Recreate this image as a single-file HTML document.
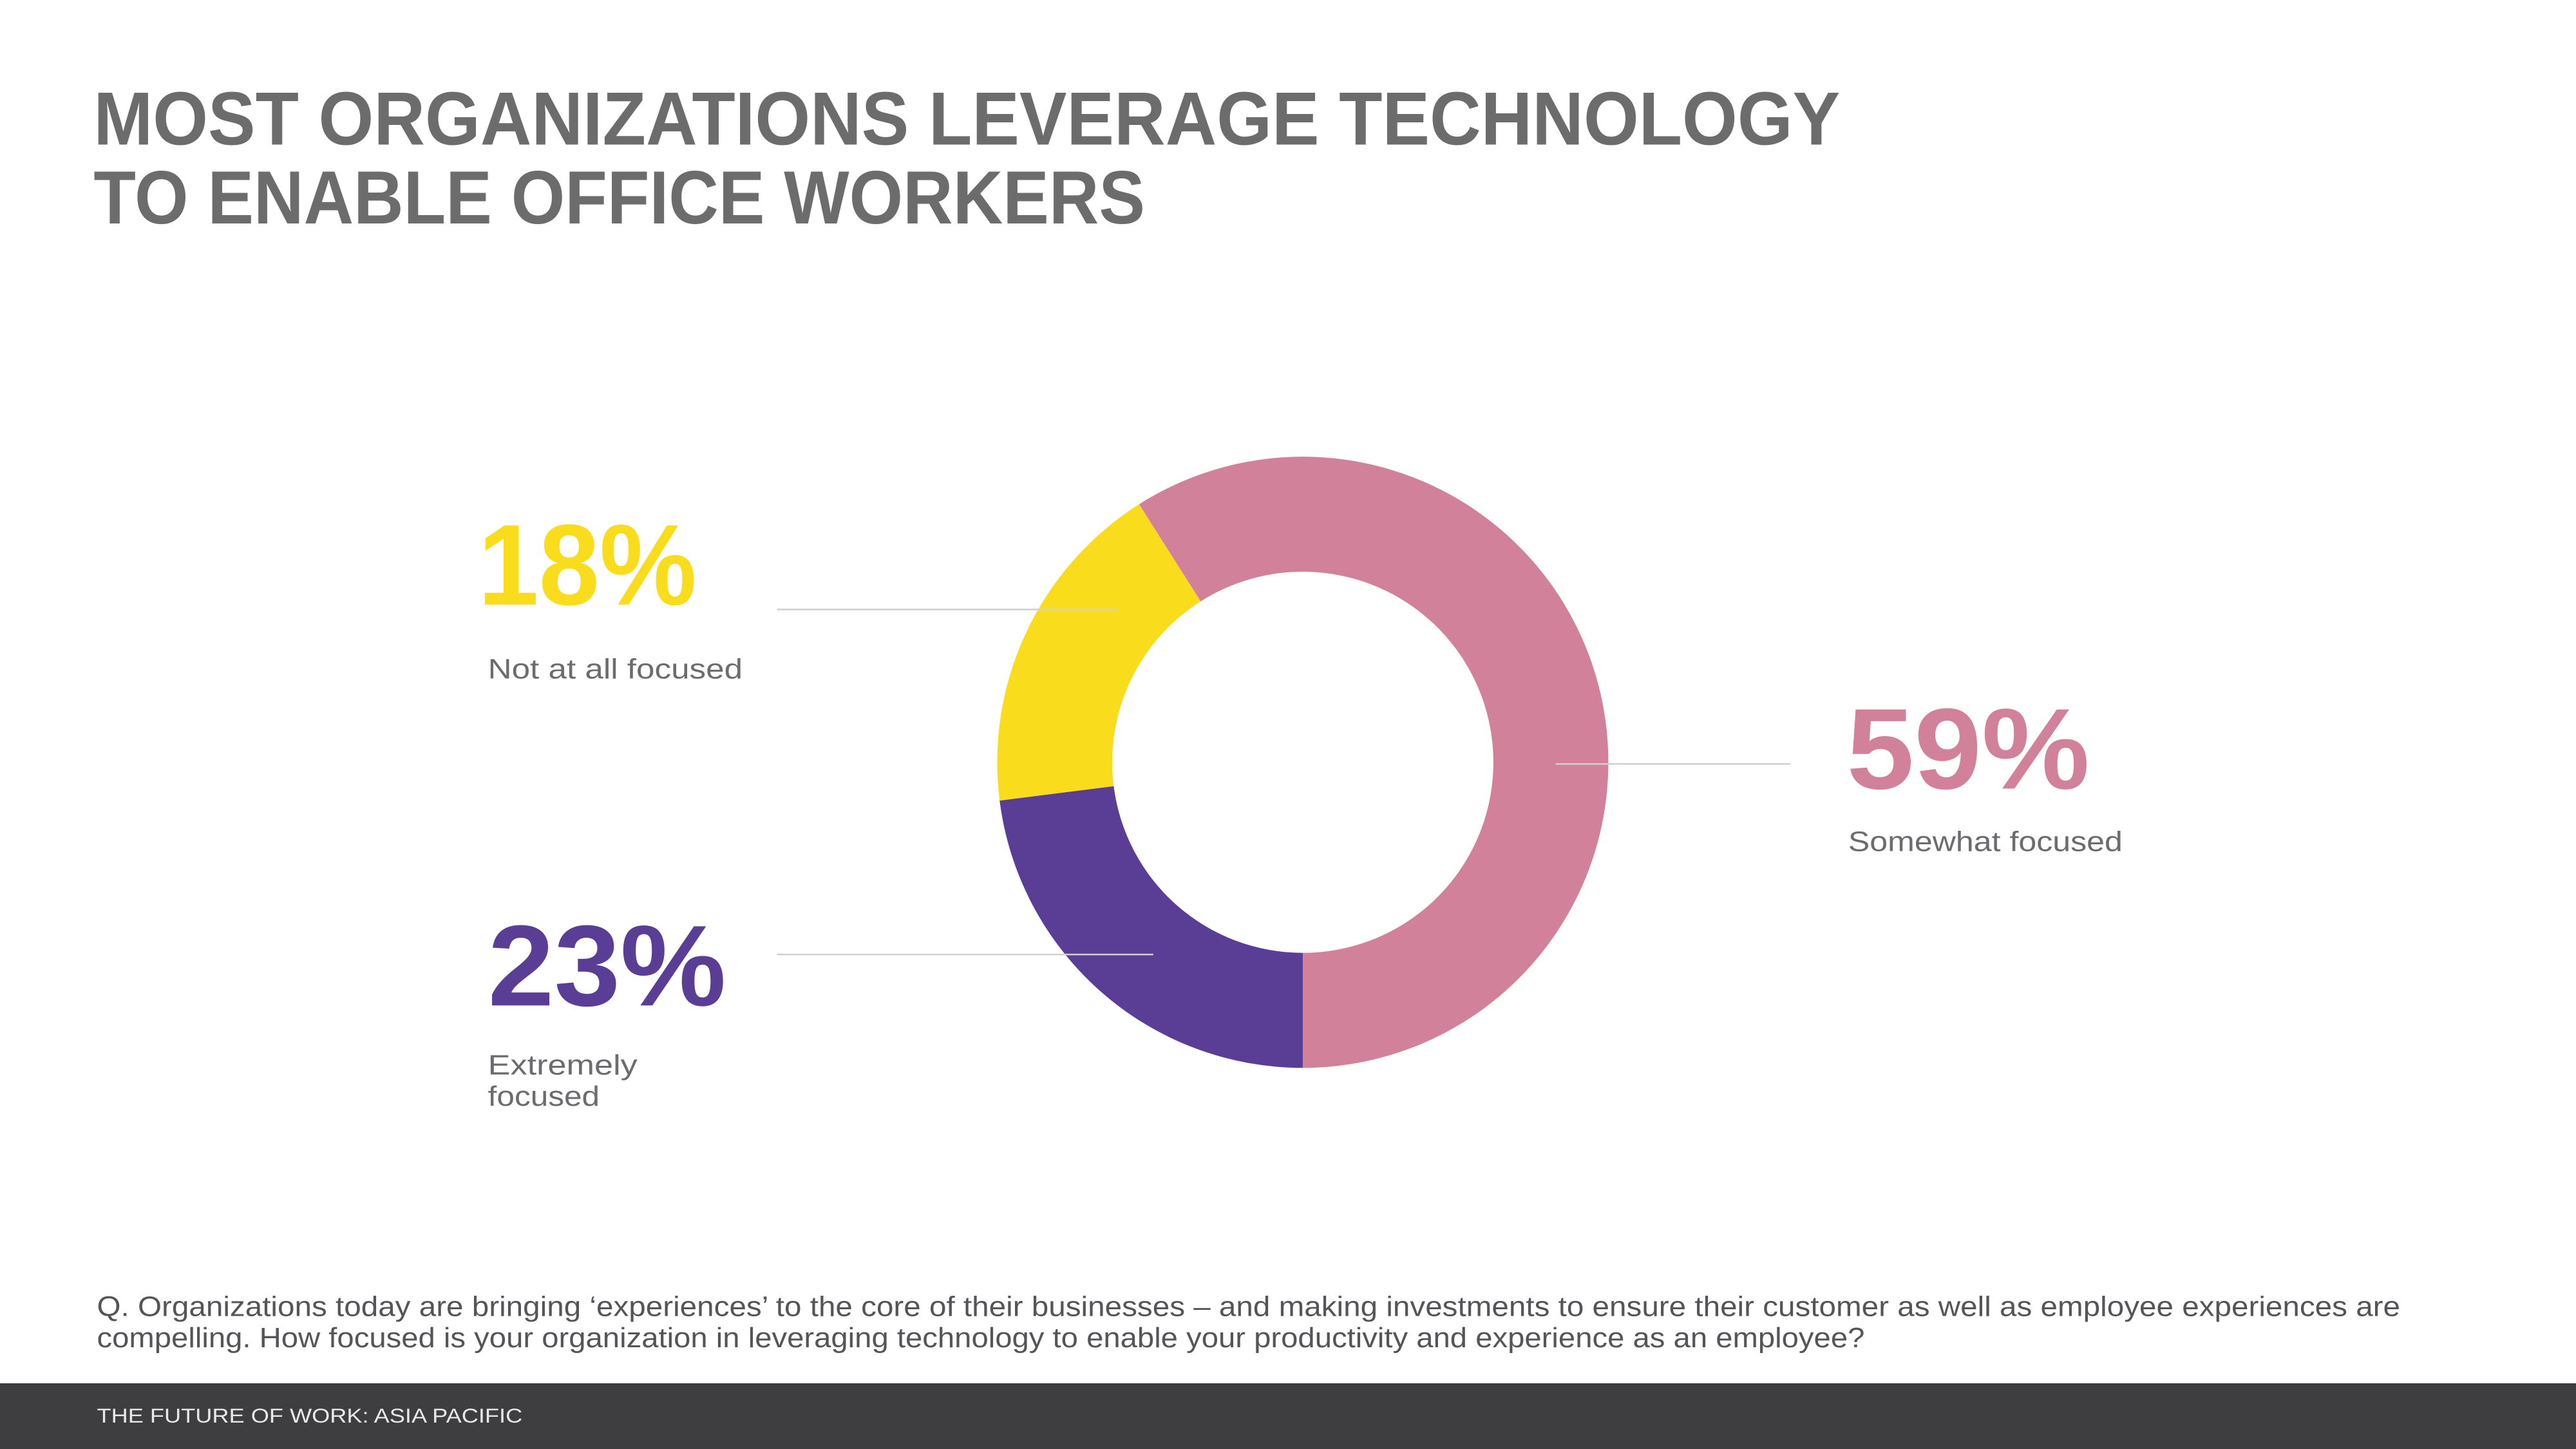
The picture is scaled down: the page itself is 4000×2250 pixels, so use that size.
<!DOCTYPE html>
<html><head><meta charset="utf-8"><style>
html,body{margin:0;padding:0;background:#fff;}
svg{display:block;}
</style></head><body>
<svg id="chart" width="4000" height="2250" viewBox="0 0 1568 882" xmlns="http://www.w3.org/2000/svg" font-family="'Liberation Sans', sans-serif">
  <rect x="0" y="0" width="1568" height="882" fill="#ffffff"/>
  <g fill="#6c6c6c" font-weight="bold" font-size="46">
    <text x="57" y="88" textLength="1063" lengthAdjust="spacingAndGlyphs">MOST ORGANIZATIONS LEVERAGE TECHNOLOGY</text>
    <text x="57" y="136" textLength="640" lengthAdjust="spacingAndGlyphs">TO ENABLE OFFICE WORKERS</text>
  </g>
  <g id="slices"></g>
  <g stroke="#d0d0d0" stroke-width="1">
    <line x1="473" y1="371" x2="680" y2="371"/>
    <line x1="473" y1="581" x2="702" y2="581"/>
    <line x1="947" y1="465" x2="1090" y2="465"/>
  </g>
  <g>
    <text x="291" y="368" font-size="70" font-weight="bold" fill="#f9dc1c" textLength="133" lengthAdjust="spacingAndGlyphs">18%</text>
    <text x="297" y="413" font-size="17" fill="#6c6c70" textLength="155" lengthAdjust="spacingAndGlyphs">Not at all focused</text>
  </g>
  <g>
    <text x="297" y="612" font-size="70" font-weight="bold" fill="#5a3e96" textLength="145" lengthAdjust="spacingAndGlyphs">23%</text>
    <text x="297" y="654" font-size="17" fill="#6c6c70" textLength="91" lengthAdjust="spacingAndGlyphs">Extremely</text>
    <text x="297" y="673" font-size="17" fill="#6c6c70" textLength="68" lengthAdjust="spacingAndGlyphs">focused</text>
  </g>
  <g>
    <text x="1124" y="480" font-size="70" font-weight="bold" fill="#d2819a" textLength="148" lengthAdjust="spacingAndGlyphs">59%</text>
    <text x="1125" y="518" font-size="17" fill="#6c6c70" textLength="167" lengthAdjust="spacingAndGlyphs">Somewhat focused</text>
  </g>
  <g font-size="17" fill="#555559">
    <text x="59" y="801" textLength="1402" lengthAdjust="spacingAndGlyphs">Q. Organizations today are bringing ‘experiences’ to the core of their businesses – and making investments to ensure their customer as well as employee experiences are</text>
    <text x="59" y="820" textLength="1076" lengthAdjust="spacingAndGlyphs">compelling. How focused is your organization in leveraging technology to enable your productivity and experience as an employee?</text>
  </g>
  <rect x="0" y="842" width="1568" height="40" fill="#3e3e40"/>
  <text x="59" y="866" font-size="12.5" fill="#e8e8e8" textLength="259" lengthAdjust="spacingAndGlyphs">THE FUTURE OF WORK: ASIA PACIFIC</text>
</svg>
<script>
const categories = ["Somewhat focused", "Extremely focused", "Not at all focused"];
const values = [59, 23, 18];
const colors = ["#d2819a", "#5a3e96", "#f9dc1c"];
const cx = 793, cy = 464, rO = 186, rI = 116;
const total = values.reduce((a,b)=>a+b,0);
function angleScale(v){ return v / total * 360; }
function pt(r, deg){ const a = deg*Math.PI/180; return [cx + r*Math.sin(a), cy - r*Math.cos(a)]; }
const g = document.getElementById('slices');
let start = 180 - angleScale(values[0]);
values.forEach((v,i)=>{
  const end = start + angleScale(v);
  const large = (end-start) > 180 ? 1 : 0;
  const [x1,y1]=pt(rO,start),[x2,y2]=pt(rO,end),[x3,y3]=pt(rI,end),[x4,y4]=pt(rI,start);
  const p = document.createElementNS('http://www.w3.org/2000/svg','path');
  p.setAttribute('d',`M${x1},${y1} A${rO},${rO} 0 ${large} 1 ${x2},${y2} L${x3},${y3} A${rI},${rI} 0 ${large} 0 ${x4},${y4} Z`);
  p.setAttribute('fill',colors[i]);
  
  
  g.appendChild(p);
  start = end;
});
</script>
</body></html>
